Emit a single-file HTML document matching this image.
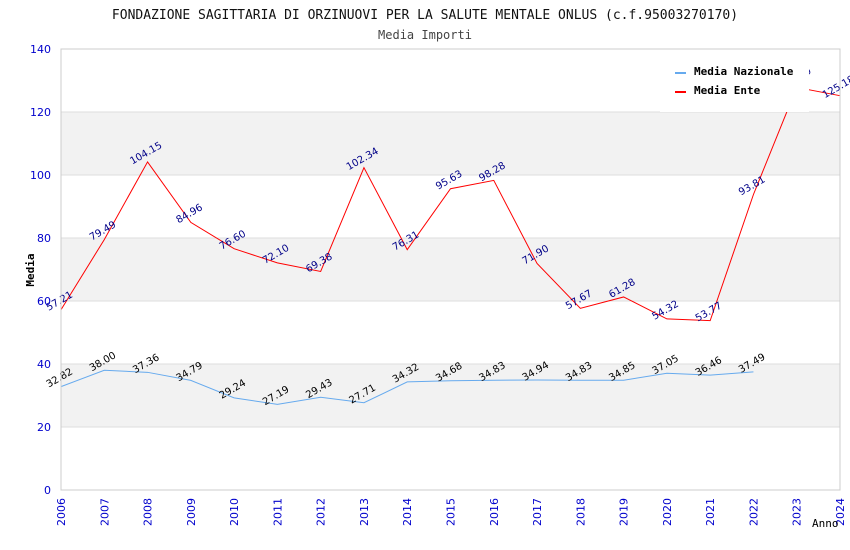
<!DOCTYPE html>
<html><head><meta charset="utf-8"><style>
body{margin:0;background:#fff;width:850px;height:550px;overflow:hidden}
svg{display:block}
</style></head><body>
<svg id="chart" width="850" height="550" xmlns="http://www.w3.org/2000/svg">
<text x="425" y="19" text-anchor="middle" font-family="DejaVu Sans Mono, Liberation Mono, monospace" font-size="13" fill="#111">FONDAZIONE SAGITTARIA DI ORZINUOVI PER LA SALUTE MENTALE ONLUS (c.f.95003270170)</text>
<text x="425" y="39" text-anchor="middle" font-family="DejaVu Sans Mono, Liberation Mono, monospace" font-size="12" fill="#444">Media Importi</text>
<g id="grid"></g>
<g id="series"></g>
<g id="labels"></g>
<g id="axes"></g>
<g id="legend">
<rect x="660" y="50" width="149" height="62" fill="#fff"/>
<line x1="675" y1="73" x2="686" y2="73" stroke="#66aaee" stroke-width="2"/>
<text x="694" y="75" font-family="DejaVu Sans Mono, Liberation Mono, monospace" font-size="11" font-weight="bold" fill="#000">Media Nazionale</text>
<line x1="675" y1="92" x2="686" y2="92" stroke="#ff0000" stroke-width="2"/>
<text x="694" y="94" font-family="DejaVu Sans Mono, Liberation Mono, monospace" font-size="11" font-weight="bold" fill="#000">Media Ente</text>
</g>
</svg>
<script>
const years=[2006,2007,2008,2009,2010,2011,2012,2013,2014,2015,2016,2017,2018,2019,2020,2021,2022,2023,2024];
const nazionale=[32.82,38.00,37.36,34.79,29.24,27.19,29.43,27.71,34.32,34.68,34.83,34.94,34.83,34.85,37.05,36.46,37.49];
const ente=[57.21,79.49,104.15,84.96,76.60,72.10,69.38,102.34,76.31,95.63,98.28,71.90,57.67,61.28,54.32,53.77,93.81,127.8,125.18];
const yTicks=[0,20,40,60,80,100,120,140];
const NS="http://www.w3.org/2000/svg";
const L=61,R=840,T=49,B=490;
const xs=i=>L+(R-L)*i/(years.length-1);
const ys=v=>B-(B-T)*v/140;
function mk(tag,attrs,parent){const e=document.createElementNS(NS,tag);for(const k in attrs)e.setAttribute(k,attrs[k]);document.getElementById(parent).appendChild(e);return e;}
const font="DejaVu Sans, Liberation Sans, sans-serif";
for(let i=0;i<yTicks.length-1;i++){
 if(i%2===1){const b=mk('rect',{x:L,y:ys(yTicks[i+1]),width:R-L,height:ys(yTicks[i])-ys(yTicks[i+1]),fill:'#f2f2f2'},'grid');
 
 }
}
yTicks.forEach(v=>{
 const g=mk('line',{x1:L,x2:R,y1:ys(v),y2:ys(v),stroke:'#ddd','stroke-width':1},'grid');
 
 
 const t=mk('text',{x:L-10,y:ys(v)+4,'text-anchor':'end','font-family':font,'font-size':11,fill:'#0000cc'},'axes');
 t.textContent=v;
 
 
});
mk('rect',{x:L,y:T,width:R-L,height:B-T,fill:'none',stroke:'#ccc'},'axes');
years.forEach((y,i)=>{
 const t=mk('text',{x:0,y:0,'text-anchor':'end','font-family':font,'font-size':11,fill:'#0000cc',transform:`translate(${xs(i)+4},${B+8}) rotate(-90)`},'axes');
 t.textContent=y;
 
 
});
const yt=mk('text',{x:0,y:0,'text-anchor':'middle','font-family':'DejaVu Sans Mono, monospace','font-size':11,'font-weight':'bold',fill:'#000',transform:'translate(34,270) rotate(-90)'},'axes');
yt.textContent='Media';


const xt=mk('text',{x:812,y:527,'font-family':'DejaVu Sans Mono, monospace','font-size':11,fill:'#000'},'axes');
xt.textContent='Anno';


function series(data,color,lc,name){
 const p=mk('polyline',{points:data.map((v,i)=>xs(i)+','+ys(v)).join(' '),fill:'none',stroke:color,'stroke-width':1},'series');
 
 
 data.forEach((v,i)=>{
  const t=mk('text',{x:0,y:0,'text-anchor':'middle','font-family':font,'font-size':10,fill:lc,transform:`translate(${xs(i)},${ys(v)-6}) rotate(-30)`},'labels');
  t.textContent=v.toFixed(2);
  
  
 });
}
series(nazionale,'#66aaee','#000','nazionale');
series(ente,'#ff0000','#000088','ente');
document.getElementById('chart').appendChild(document.getElementById('legend'));
</script>
</body></html>
